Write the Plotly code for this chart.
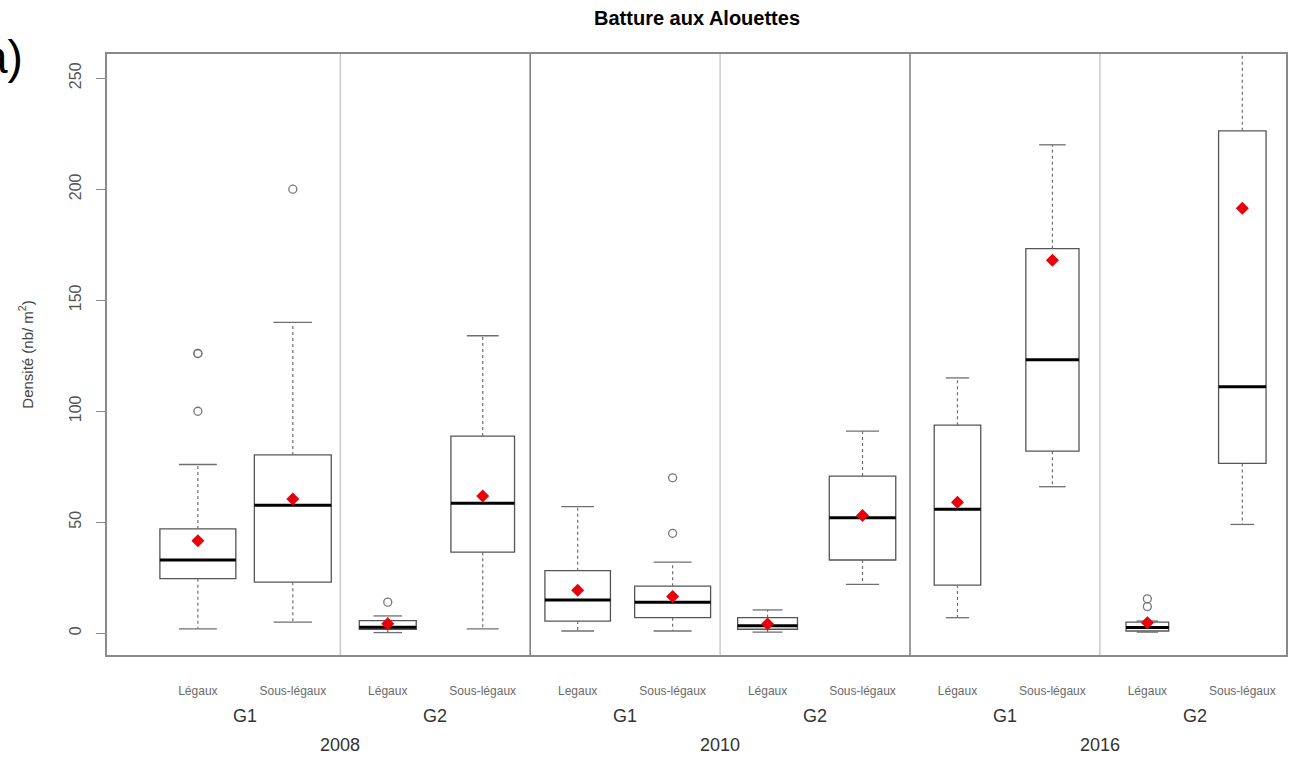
import plotly.graph_objects as go

# Density of clams per category, site "Batture aux Alouettes"
positions = [1, 2, 3, 4, 5, 6, 7, 8, 9, 10, 11, 12]
categories = ["Légaux", "Sous-légaux", "Légaux", "Sous-légaux",
              "Legaux", "Sous-légaux", "Légaux", "Sous-légaux",
              "Légaux", "Sous-légaux", "Légaux", "Sous-légaux"]
groups = ["G1", "G2", "G1", "G2", "G1", "G2"]
years = ["2008", "2010", "2016"]

lower_whisker = [2, 5, 0.3, 2, 1, 1, 0.5, 22, 7, 66, 0.5, 49]
q1 = [24.6, 23, 1.8, 36.5, 5.5, 7, 1.8, 33, 21.7, 82, 1.0, 76.5]
median = [33, 57.6, 2.7, 58.5, 15, 14, 3.4, 52, 55.8, 123.2, 2.6, 111]
q3 = [47, 80.3, 5.7, 88.8, 28.2, 21.2, 7, 70.8, 93.7, 173.2, 5.0, 226.3]
upper_whisker = [76, 140, 7.8, 134, 57, 32, 10.5, 91, 115, 220, 5.5, 300]
means = [41.7, 60.5, 4.3, 61.8, 19.4, 16.5, 4.2, 53, 59, 168, 4.7, 191.4]
outliers = [[126, 126, 100], [200], [14], [], [], [70, 45],
            [], [], [], [], [15.5, 12], []]
# relative box widths (variable width boxplot)
box_widths = [0.80, 0.81, 0.60, 0.67, 0.69, 0.80, 0.63, 0.70, 0.49, 0.56, 0.45, 0.50]

FONT = "Arial, Liberation Sans, Helvetica, sans-serif"
BOX_COL = "#555555"
WHISK_COL = "#6f6f6f"

fig = go.Figure()

for i, p in enumerate(positions):
    w = box_widths[i]
    # box body (whiskers are drawn separately, R style)
    fig.add_trace(go.Box(
        x=[p], q1=[q1[i]], median=[median[i]], q3=[q3[i]],
        lowerfence=[q1[i]], upperfence=[q3[i]],
        width=w, whiskerwidth=0, fillcolor="white",
        line=dict(color=BOX_COL, width=1.3),
        boxpoints=False, hoverinfo="skip", showlegend=False))
    # dotted whiskers
    for a, b in ((q3[i], upper_whisker[i]), (q1[i], lower_whisker[i])):
        fig.add_trace(go.Scatter(
            x=[p, p], y=[a, b], mode="lines",
            line=dict(color=WHISK_COL, width=1.2, dash="dot"),
            hoverinfo="skip", showlegend=False))
    # staples
    for v in (upper_whisker[i], lower_whisker[i]):
        fig.add_trace(go.Scatter(
            x=[p - w / 4, p + w / 4], y=[v, v], mode="lines",
            line=dict(color=WHISK_COL, width=1.3),
            hoverinfo="skip", showlegend=False))
    # thick median
    fig.add_trace(go.Scatter(
        x=[p - w / 2, p + w / 2], y=[median[i], median[i]], mode="lines",
        line=dict(color="black", width=3),
        hoverinfo="skip", showlegend=False))
    # outliers
    if outliers[i]:
        fig.add_trace(go.Scatter(
            x=[p] * len(outliers[i]), y=outliers[i], mode="markers",
            marker=dict(symbol="circle-open", size=8, color="#777777",
                        line=dict(width=1.3)),
            hoverinfo="skip", showlegend=False))

# group means
fig.add_trace(go.Scatter(
    x=positions, y=means, mode="markers",
    marker=dict(symbol="diamond", size=10, color="#e8000b"),
    hoverinfo="skip", showlegend=False))

# separators between groups (light) and years (dark)
shapes = []
for k in range(1, len(groups)):
    xs = positions[2 * k] - 0.5
    dark = k % 2 == 0
    shapes.append(dict(type="line", xref="x", yref="paper", x0=xs, x1=xs,
                       y0=0, y1=1,
                       line=dict(color="#7a7a7a" if dark else "#bdbdbd",
                                 width=1.5 if dark else 1.2)))

annotations = []
for k, g in enumerate(groups):
    xc = (positions[2 * k] + positions[2 * k + 1]) / 2
    annotations.append(dict(x=xc, y=-0.101, xref="x", yref="paper",
                            yanchor="middle", text=g, showarrow=False,
                            font=dict(family=FONT, size=18, color="#333333")))
for k, yr in enumerate(years):
    xc = (positions[4 * k] + positions[4 * k + 3]) / 2
    annotations.append(dict(x=xc, y=-0.149, xref="x", yref="paper",
                            yanchor="middle", text=yr, showarrow=False,
                            font=dict(family=FONT, size=18, color="#333333")))
annotations.append(dict(x=-0.0695, y=0.995, xref="paper", yref="paper",
                        xanchor="right", yanchor="middle", text="a)",
                        showarrow=False,
                        font=dict(family=FONT, size=46, color="black")))

fig.update_layout(
    width=1292, height=761,
    margin=dict(l=107, r=4, t=54, b=106),
    paper_bgcolor="white", plot_bgcolor="white",
    title=dict(text="<b>Batture aux Alouettes</b>", x=0.5395, xanchor="center",
               y=0.976, yanchor="middle",
               font=dict(family=FONT, size=20, color="black")),
    shapes=shapes, annotations=annotations,
    xaxis=dict(range=[0.043, 12.46], tickmode="array", tickvals=positions,
               ticktext=categories, ticks="", showgrid=False, zeroline=False,
               showline=True, mirror=True, linecolor="#8a8a8a", linewidth=1.5,
               ticklabelstandoff=24,
               tickfont=dict(family=FONT, size=12, color="#6a6a6a")),
    yaxis=dict(range=[-9.8, 260.9], tickvals=[0, 50, 100, 150, 200, 250],
               ticks="outside", ticklen=9, tickcolor="#8a8a8a", tickwidth=1.2,
               tickangle=-90, showgrid=False, zeroline=False,
               showline=True, mirror=True, linecolor="#8a8a8a", linewidth=1.5,
               ticklabelstandoff=9,
               tickfont=dict(family=FONT, size=16, color="#555555"),
               title=dict(text="Densité (nb/ m<sup>2</sup>)", standoff=30,
                          font=dict(family=FONT, size=15, color="#444444"))),
)

fig.write_html("out.html")
